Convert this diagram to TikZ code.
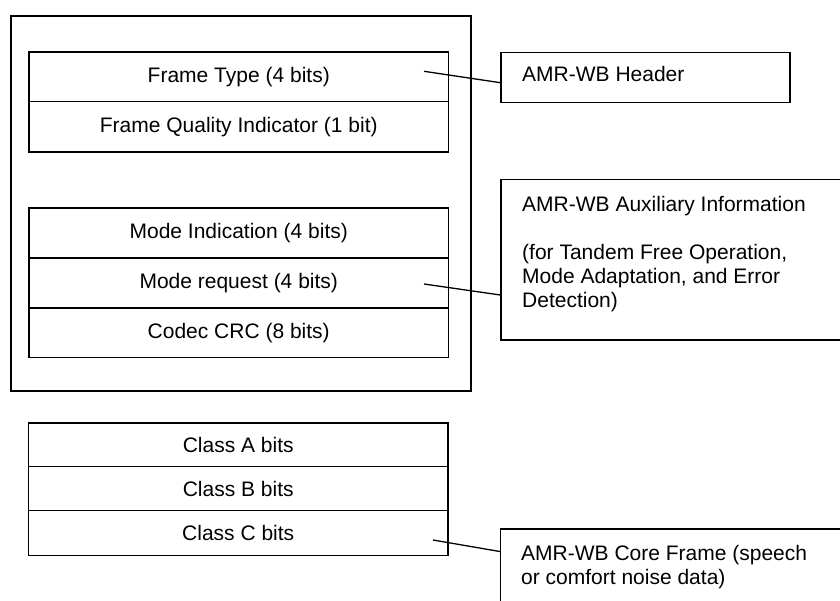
\documentclass[tikz,border=0pt]{standalone}
\usepackage{fontspec}
\setmainfont{Liberation Sans}
\begin{document}
\begin{tikzpicture}[x=1pt,y=-1pt,
  every node/.style={font=\fontsize{21}{24}\selectfont},
  rowbox/.style={draw, line width=1.3pt, minimum width=419.5pt, inner sep=0pt},
  labbox/.style={draw, line width=1.3pt, inner sep=0pt},
  conn/.style={line width=1.3pt},
  lab/.style={anchor=base west, align=left, inner sep=0pt}]
\useasboundingbox (0,0) rectangle (840,600);
\clip (0,0) rectangle (840,600);
% outer box
\node[draw, line width=2pt, minimum width=460pt, minimum height=375pt, inner sep=0pt] (outer) at (241,203) {};
% header rows
\node[rowbox, minimum height=49.7pt] (ft) at (238.75,76.85) {Frame Type (4 bits)};
\node[rowbox, minimum height=50.3pt] (fqi) at (238.75,126.85) {Frame Quality Indicator (1 bit)};
% aux rows
\node[rowbox, minimum height=50pt] (mi) at (238.75,233) {Mode Indication (4 bits)};
\node[rowbox, minimum height=50pt] (mr) at (238.75,283) {Mode request (4 bits)};
\node[rowbox, minimum height=49.5pt] (crc) at (238.75,332.75) {Codec CRC (8 bits)};
% class rows
\node[rowbox, minimum height=43.6pt] (ca) at (238.25,444.8) {Class A bits};
\node[rowbox, minimum height=44pt] (cb) at (238.25,488.6) {Class B bits};
\node[rowbox, minimum height=44.7pt] (cc) at (238.25,532.95) {Class C bits};
% right-hand boxes
\node[labbox, minimum width=289pt, minimum height=50pt] (hd) at (645.5,77.3) {};
\node[lab] (hdt) at (522,81.5) {AMR-WB Header};
\node[labbox, minimum width=349pt, minimum height=160.3pt] (aux) at (675.5,259.85) {};
\node[lab] (auxt) at (522,307) {AMR-WB Auxiliary Information\\[24pt](for Tandem Free Operation,\\Mode Adaptation, and Error\\Detection)};
\node[labbox, minimum width=349.5pt, minimum height=81pt] (core) at (675.25,569.5) {};
\node[lab] (coret) at (521,584) {AMR-WB Core Frame (speech\\or comfort noise data)};
% connector end points
\coordinate (c1a) at (424,71.3);
\coordinate (c1b) at (hd.west |- 0,82.7);
\coordinate (c2a) at (424,284);
\coordinate (c2b) at (aux.west |- 0,295);
\coordinate (c3a) at (433,540);
\coordinate (c3b) at (core.west |- 0,551.5);
\draw[conn] (c1a) -- (c1b);
\draw[conn] (c2a) -- (c2b);
\draw[conn] (c3a) -- (c3b);
\end{tikzpicture}
\end{document}
